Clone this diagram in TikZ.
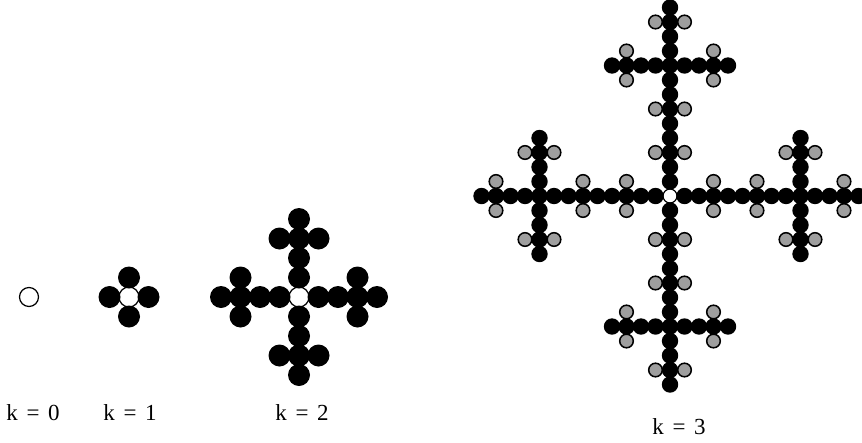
\documentclass[tikz,border=0pt]{standalone}
\usepackage{fontspec}
\setmainfont[WordSpace=1.5]{Liberation Serif}
\usetikzlibrary{positioning}
\definecolor{dotgray}{gray}{0.62}

\begin{document}
\begin{tikzpicture}[
    x=1pt, y=-1pt,
    font=\fontsize{23}{26}\selectfont,
    hole/.style={draw, fill=white, line width=1.2pt},
    bead/.style={fill=black},
    grain/.style={draw, fill=dotgray, line width=1.5pt},
    klabel/.style={anchor=base, inner sep=0pt}
]
\useasboundingbox (0,0) rectangle (862,442);
% k = 0
\draw[line width=1.2pt] (29,297) circle[radius=9.5];
% k = 1
\filldraw[hole] (129,297) circle[radius=10];
\foreach \a in {0,90,180,270}
    \fill[bead, rotate around={\a:(129,297)}] (148.5,297) circle[radius=11];
% k = 2
\filldraw[hole] (299,297) circle[radius=10];
\foreach \a in {0,90,180,270} {
    \begin{scope}[shift={(299,297)}, rotate=\a]
    \foreach \i in {1,...,4}
        \fill[bead] (\i*19.5,0) circle[radius=11];
    \foreach \s in {-1,1}
        \fill[bead] (3*19.5,\s*19.5) circle[radius=11];
    \end{scope}
}
% k = 3
\filldraw[hole] (670,196) circle[radius=7];
\foreach \a in {0,90,180,270} {
    \begin{scope}[shift={(670,196)}, rotate=\a]
    \foreach \i in {1,...,13}
        \fill[bead] (\i*14.5,0) circle[radius=8.2];
    \foreach \s in {-1,1} {
        \foreach \j in {1,...,4}
            \fill[bead] (9*14.5,\s*\j*14.5) circle[radius=8.2];
        \foreach \i in {3,6,12}
            \filldraw[grain] (\i*14.5,\s*14.5) circle[radius=6.8];
        \foreach \i in {8,10}
            \filldraw[grain] (\i*14.5,\s*3*14.5) circle[radius=6.8];
    }
    \end{scope}
}
% labels
\node[klabel] (k0) at (33,420) {k = 0};
\node[klabel] (k1) at (130,420) {k = 1};
\node[klabel] (k2) at (302,420) {k = 2};
\node[klabel] (k3) at (679,434) {k = 3};
\end{tikzpicture}
\end{document}
